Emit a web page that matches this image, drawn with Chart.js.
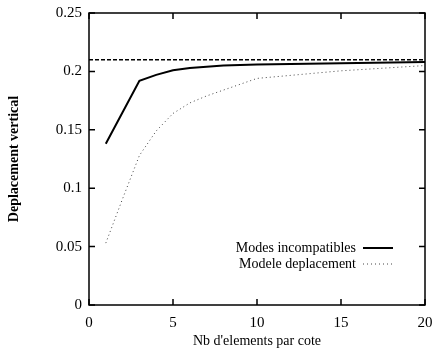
<!DOCTYPE html>
<html lang="en">
<head>
    <meta charset="UTF-8">
    <title>Deplacement vertical</title>
    <script src="https://cdn.jsdelivr.net/npm/chart.js"></script>
    <style>
        html, body { margin: 0; padding: 0; background: #fff; }
        #wrap { width: 432px; height: 348px; }
    </style>
</head>
<body>
    <div id="wrap"><canvas id="myChart"></canvas></div>
    <script>
        // donnees
        const nbElements = [1, 2, 3, 4, 5, 6, 7, 8, 9, 10, 15, 20];
        const modesIncompatibles = [0.138, 0.165, 0.192, 0.197, 0.201, 0.203, 0.204, 0.205, 0.2055, 0.206, 0.207, 0.208];
        const modeleDeplacement = [0.053, 0.091, 0.128, 0.149, 0.164, 0.173, 0.179, 0.184, 0.189, 0.194, 0.2005, 0.205];
        const referenceX = [0, 20];
        const referenceY = [0.21, 0.21];
        const seriesNames = ['Modes incompatibles', 'Modele deplacement'];
        const xTicks = [0, 5, 10, 15, 20];
        const yTicks = [0, 0.05, 0.1, 0.15, 0.2, 0.25];
        const yTickLabels = ['0', '0.05', '0.1', '0.15', '0.2', '0.25'];

        const serif = 'Liberation Serif';

        function toPoints(xs, ys) {
            return xs.map((x, i) => ({ x: x, y: ys[i] }));
        }

        // cadre + graduations vers l'interieur sur les 4 cotes
        const framePlugin = {
            id: 'frame',
            afterDatasetsDraw(chart) {
                const { ctx, chartArea: a, scales } = chart;
                const len = 6;
                ctx.save();
                ctx.strokeStyle = '#000';
                ctx.lineWidth = 1.5;
                ctx.strokeRect(a.left, a.top, a.right - a.left, a.bottom - a.top);
                ctx.beginPath();
                xTicks.forEach(v => {
                    const px = scales.x.getPixelForValue(v);
                    ctx.moveTo(px, a.bottom); ctx.lineTo(px, a.bottom - len);
                    ctx.moveTo(px, a.top); ctx.lineTo(px, a.top + len);
                });
                yTicks.forEach(v => {
                    const py = scales.y.getPixelForValue(v);
                    ctx.moveTo(a.left, py); ctx.lineTo(a.left + len, py);
                    ctx.moveTo(a.right, py); ctx.lineTo(a.right - len, py);
                });
                ctx.stroke();

                // legende dans le coin bas droit
                ctx.font = '14px "' + serif + '"';
                ctx.fillStyle = '#000';
                ctx.textAlign = 'right';
                ctx.textBaseline = 'middle';
                const rows = [a.bottom - 57, a.bottom - 41];
                [0, 1].forEach(i => {
                    const ds = chart.data.datasets[i];
                    const y = rows[i];
                    ctx.fillText(seriesNames[i], a.right - 69, y);
                    ctx.beginPath();
                    ctx.setLineDash(ds.borderDash || []);
                    ctx.strokeStyle = ds.borderColor;
                    ctx.lineWidth = ds.borderWidth;
                    ctx.moveTo(a.right - 62, y);
                    ctx.lineTo(a.right - 32, y);
                    ctx.stroke();
                });
                ctx.restore();
            }
        };

        const ctx = document.getElementById('myChart').getContext('2d');
        new Chart(ctx, {
            type: 'line',
            data: {
                datasets: [
                    {
                        label: seriesNames[0],
                        data: toPoints(nbElements, modesIncompatibles),
                        borderColor: '#000',
                        borderWidth: 2,
                        pointRadius: 0,
                        tension: 0
                    },
                    {
                        label: seriesNames[1],
                        data: toPoints(nbElements, modeleDeplacement),
                        borderColor: '#444',
                        borderWidth: 1,
                        borderDash: [1, 3],
                        pointRadius: 0,
                        tension: 0
                    },
                    {
                        label: 'reference',
                        data: toPoints(referenceX, referenceY),
                        borderColor: '#000',
                        borderWidth: 1.5,
                        borderDash: [4, 2],
                        pointRadius: 0
                    }
                ]
            },
            options: {
                responsive: true,
                maintainAspectRatio: false,
                animation: false,
                layout: { padding: { top: 13, right: 7, left: 0, bottom: 0 } },
                plugins: {
                    legend: { display: false },
                    tooltip: { enabled: false }
                },
                scales: {
                    x: {
                        type: 'linear',
                        min: 0,
                        max: 20,
                        afterFit: s => { s.height = 43; s.paddingLeft = 0; s.paddingRight = 0; },
                        afterBuildTicks: s => { s.ticks = xTicks.map(v => ({ value: v })); },
                        grid: { display: false, drawTicks: false },
                        border: { display: false },
                        ticks: {
                            padding: 9,
                            color: '#000',
                            font: { family: serif, size: 15 },
                            maxRotation: 0
                        },
                        title: {
                            display: true,
                            text: "Nb d'elements par cote",
                            color: '#000',
                            font: { family: serif, size: 14, lineHeight: 1 },
                            padding: { top: 0, bottom: 0 }
                        }
                    },
                    y: {
                        min: 0,
                        max: 0.25,
                        afterFit: s => { s.width = 89; s.paddingTop = 0; s.paddingBottom = 0; },
                        afterBuildTicks: s => { s.ticks = yTicks.map(v => ({ value: v })); },
                        grid: { display: false, drawTicks: false },
                        border: { display: false },
                        ticks: {
                            padding: 7,
                            color: '#000',
                            font: { family: serif, size: 15 },
                            callback: (v) => yTickLabels[yTicks.indexOf(v)] ?? ''
                        },
                        title: {
                            display: true,
                            text: 'Deplacement vertical',
                            color: '#000',
                            font: { family: serif, size: 14, weight: 'bold' },
                            padding: { top: 6, bottom: 0 }
                        }
                    }
                }
            },
            plugins: [framePlugin]
        });
    </script>
</body>
</html>
